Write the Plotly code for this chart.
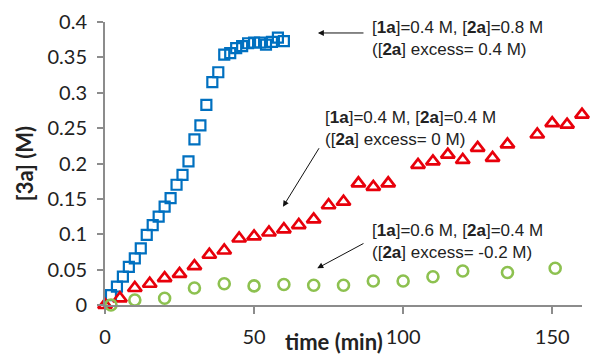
import plotly.graph_objects as go

# ---- data ----
t_blue = [2, 4, 6, 8, 10, 12, 14, 16, 18, 20, 22, 24, 26, 28, 30, 32, 34, 36, 38, 40,
          42, 44, 46, 48, 50, 52, 54, 56, 58, 60]
c_blue = [0.014, 0.026, 0.040, 0.054, 0.066, 0.080, 0.099, 0.113, 0.125, 0.139,
          0.151, 0.170, 0.184, 0.203, 0.234, 0.254, 0.283, 0.315, 0.329, 0.354,
          0.356, 0.363, 0.366, 0.370, 0.371, 0.371, 0.368, 0.372, 0.378, 0.373]

t_red = [0, 5, 10, 15, 20, 25, 30, 35, 40, 45, 50, 55, 60, 65, 70, 75, 80, 85, 90, 95,
         105, 110, 115, 120, 125, 130, 135, 145, 150, 155, 160]
c_red = [0.0, 0.0095, 0.024, 0.030, 0.038, 0.044, 0.055, 0.071, 0.077, 0.094,
         0.097, 0.1025, 0.107, 0.113, 0.121, 0.141, 0.146, 0.172, 0.167, 0.172,
         0.198, 0.203, 0.2125, 0.205, 0.222, 0.208, 0.227, 0.241, 0.257, 0.255, 0.269]

t_green = [2, 10, 20, 30, 40, 50, 60, 70, 80, 90, 100, 110, 120, 135, 151]
c_green = [0.0, 0.007, 0.0095, 0.024, 0.030, 0.027, 0.029, 0.028, 0.028, 0.034,
           0.034, 0.040, 0.048, 0.046, 0.052]

x_ticks = [0, 50, 100, 150]
y_ticks = [0, 0.05, 0.1, 0.15, 0.2, 0.25, 0.3, 0.35, 0.4]
y_tick_text = ["0", "0.05", "0.1", "0.15", "0.2", "0.25", "0.3", "0.35", "0.4"]

x_title = "<b>time (min)</b>"
y_title = "<b>[3a] (M)</b>"

labels = [
    "[<b>1a</b>]=0.4 M, [<b>2a</b>]=0.8 M<br>([<b>2a</b>] excess= 0.4 M)",
    "[<b>1a</b>]=0.4 M, [<b>2a</b>]=0.4 M<br>([<b>2a</b>] excess= 0 M)",
    "[<b>1a</b>]=0.6 M, [<b>2a</b>]=0.4 M<br>([<b>2a</b>] excess= -0.2 M)",
]
# label anchor (left, middle) in data units, arrow tail and tip
label_pos = [(88.9, 0.376), (73.1, 0.2495), (88.9, 0.0895)]
arrow_tail = [(87.2, 0.3845), (72.1, 0.2237), (87.2, 0.0881)]
arrow_tip = [(71.4, 0.3845), (59.7, 0.139), (71.2, 0.0519)]

BLUE = "#0070C0"
RED = "#E8000B"
GREEN = "#8DC150"
AXIS = "#8C8C8C"

fig = go.Figure()
fig.add_trace(go.Scatter(x=t_blue, y=c_blue, mode="markers", cliponaxis=False,
                         marker=dict(symbol="square-open", size=10, color=BLUE,
                                     line=dict(width=2.2, color=BLUE))))
fig.add_trace(go.Scatter(x=t_red, y=c_red, mode="markers", cliponaxis=False,
                         marker=dict(symbol="triangle-up-open", size=12, color=RED,
                                     line=dict(width=2.7, color=RED))))
fig.add_trace(go.Scatter(x=t_green, y=c_green, mode="markers", cliponaxis=False,
                         marker=dict(symbol="circle-open", size=11, color=GREEN,
                                     line=dict(width=2.6, color=GREEN))))

for txt, (lx, ly) in zip(labels, label_pos):
    fig.add_annotation(x=lx, y=ly, xref="x", yref="y", text=txt, showarrow=False,
                       xanchor="left", yanchor="middle", align="left",
                       font=dict(family="Liberation Sans", size=17, color="#222"))
for (tx, ty), (hx, hy) in zip(arrow_tail, arrow_tip):
    fig.add_annotation(x=hx, y=hy, ax=tx, ay=ty, xref="x", yref="y",
                       axref="x", ayref="y", text="", showarrow=True,
                       arrowhead=2, arrowsize=1.2, arrowwidth=1, arrowcolor="#111")

# x-axis title (placed as in the reference, slightly left of centre)
fig.add_annotation(x=0.48, y=-0.185, xref="paper", yref="paper", text=x_title,
                   showarrow=False, xanchor="center", yanchor="bottom",
                   font=dict(family="Lato", size=22, color="#222"))

fig.update_layout(
    width=592, height=359, showlegend=False,
    paper_bgcolor="white", plot_bgcolor="white",
    margin=dict(l=105, r=10, t=22, b=54),
    font=dict(family="Lato", size=20, color="#222"),
)
fig.update_xaxes(range=[0, 160], tickvals=x_ticks, showgrid=False, zeroline=False,
                 automargin=False,
                 showline=True, linecolor=AXIS, linewidth=2,
                 ticks="outside", ticklen=7, tickwidth=1.5, tickcolor=AXIS,
                 ticklabelstandoff=6)
fig.update_yaxes(range=[0, 0.4], tickvals=y_ticks, ticktext=y_tick_text,
                 showgrid=False, zeroline=False, automargin=False,
                 showline=True, linecolor=AXIS, linewidth=2,
                 ticks="outside", ticklen=6, tickwidth=1.5, tickcolor=AXIS,
                 ticklabelstandoff=6,
                 title=dict(text=y_title, font=dict(size=22), standoff=8))

fig.write_html("out.html")
